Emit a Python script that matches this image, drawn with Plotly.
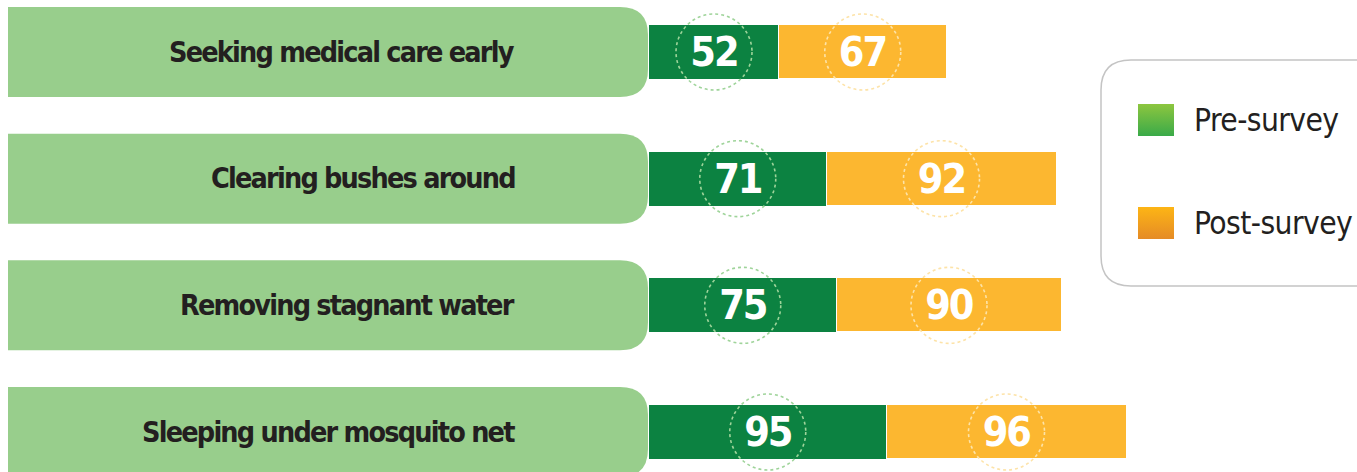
import plotly.graph_objects as go

categories = ["Seeking medical care early", "Clearing bushes around",
              "Removing stagnant water", "Sleeping under mosquito net"]
pre_survey = [52, 71, 75, 95]
post_survey = [67, 92, 90, 96]
series_names = ["Pre-survey", "Post-survey"]

W, H = 1357, 472
PX_PER_UNIT = 2.5
X0_PX = 649
ROW_PX = 126.67
Y0_PX = 52

def xd(px):
    return (px - X0_PX) / PX_PER_UNIT

def yd(py):
    return (py - Y0_PX) / ROW_PX

def tight(s, ls):
    return f'<span style="letter-spacing:{ls}px">{s}</span>'

GREEN = "#0c8241"
ORANGE = "#fcb730"
BOX = "#98ce8c"
TXT = "#231f20"
FONT = "DejaVu Sans Condensed, Liberation Sans Narrow, Roboto, sans-serif"

idx = list(range(len(categories)))
fig = go.Figure()
for vals, base_color, line_w, name in ((pre_survey, GREEN, 0, series_names[0]),
                                       (post_survey, ORANGE, 1, series_names[1])):
    fig.add_trace(go.Bar(
        y=idx, x=vals, orientation="h", name=name,
        marker=dict(color=base_color, line=dict(width=line_w, color="white")),
        width=54 / ROW_PX, text=[tight(str(v), -2) for v in vals],
        textposition="inside", insidetextanchor="middle", textangle=0,
        textfont=dict(family=FONT, size=41, color="white", weight="bold"),
        hoverinfo="skip"))

shapes = []
annotations = []
rx, ry = 38 / PX_PER_UNIT, 38 / ROW_PX
bh = 45 / ROW_PX
crx, cry = 28 / PX_PER_UNIT, 28 / ROW_PX
bx0, bx1 = xd(8), xd(648)
for i, (cat, a, b) in enumerate(zip(categories, pre_survey, post_survey)):
    y0, y1 = i - bh, i + bh
    path = (f"M {bx0},{y0} L {bx1 - crx},{y0} Q {bx1},{y0} {bx1},{y0 + cry} "
            f"L {bx1},{y1 - cry} Q {bx1},{y1} {bx1 - crx},{y1} L {bx0},{y1} Z")
    shapes.append(dict(type="path", path=path, xref="x", yref="y",
                       fillcolor=BOX, line=dict(width=0), layer="below"))
    annotations.append(dict(x=xd(517), y=i, xref="x", yref="y", text=tight(cat, -1.8),
                            showarrow=False, xanchor="right", yanchor="middle",
                            font=dict(family=FONT, size=28.5, color=TXT, weight="bold")))
    for c, col in ((a / 2, "#9fd49a"), (a + b / 2, "#fde3a8")):
        shapes.append(dict(type="circle", xref="x", yref="y",
                           x0=c - rx, x1=c + rx, y0=i - ry, y1=i + ry,
                           line=dict(color=col, width=1.6, dash="3px,3px"), layer="above"))

# legend frame
lx0, lx1, ly0, ly1 = xd(1101), xd(1390), yd(60), yd(286)
lrx, lry = 30 / PX_PER_UNIT, 30 / ROW_PX
lpath = (f"M {lx0 + lrx},{ly0} L {lx1 - lrx},{ly0} Q {lx1},{ly0} {lx1},{ly0 + lry} "
         f"L {lx1},{ly1 - lry} Q {lx1},{ly1} {lx1 - lrx},{ly1} L {lx0 + lrx},{ly1} "
         f"Q {lx0},{ly1} {lx0},{ly1 - lry} L {lx0},{ly0 + lry} Q {lx0},{ly0} {lx0 + lrx},{ly0} Z")
shapes.append(dict(type="path", path=lpath, xref="x", yref="y",
                   fillcolor="white", line=dict(color="#c4c4c4", width=1.5), layer="below"))

legend_items = [(series_names[0], 104, 136, ["#8dc63f", "#3aaa49"]),
                (series_names[1], 207, 239, ["#fdb515", "#e58b26"])]
for name, top, bot, (ctop, cbot) in legend_items:
    sx0, sx1, sy0, sy1 = xd(1138), xd(1174), yd(top), yd(bot)
    fig.add_trace(go.Scatter(
        x=[sx0, sx1, sx1, sx0, sx0], y=[sy0, sy0, sy1, sy1, sy0],
        mode="lines", line=dict(width=0), fill="toself",
        fillgradient=dict(type="vertical", colorscale=[[0, cbot], [1, ctop]]),
        hoverinfo="skip", showlegend=False))
    annotations.append(dict(x=xd(1192), y=(sy0 + sy1) / 2, xref="x", yref="y",
                            text=tight(name, -0.6), showarrow=False, xanchor="left",
                            yanchor="middle",
                            font=dict(family=FONT, size=31.5, color=TXT)))

fig.update_layout(
    width=W, height=H, margin=dict(l=0, r=0, t=0, b=0),
    paper_bgcolor="white", plot_bgcolor="white",
    barmode="stack", bargap=0, showlegend=False,
    shapes=shapes, annotations=annotations,
    xaxis=dict(range=[xd(0), xd(W)], visible=False, fixedrange=True),
    yaxis=dict(range=[yd(H), yd(0)], visible=False, fixedrange=True),
)
fig.write_html("out.html", config={"displayModeBar": False},
               post_script="document.body.style.margin='0';document.body.style.overflow='hidden';")
